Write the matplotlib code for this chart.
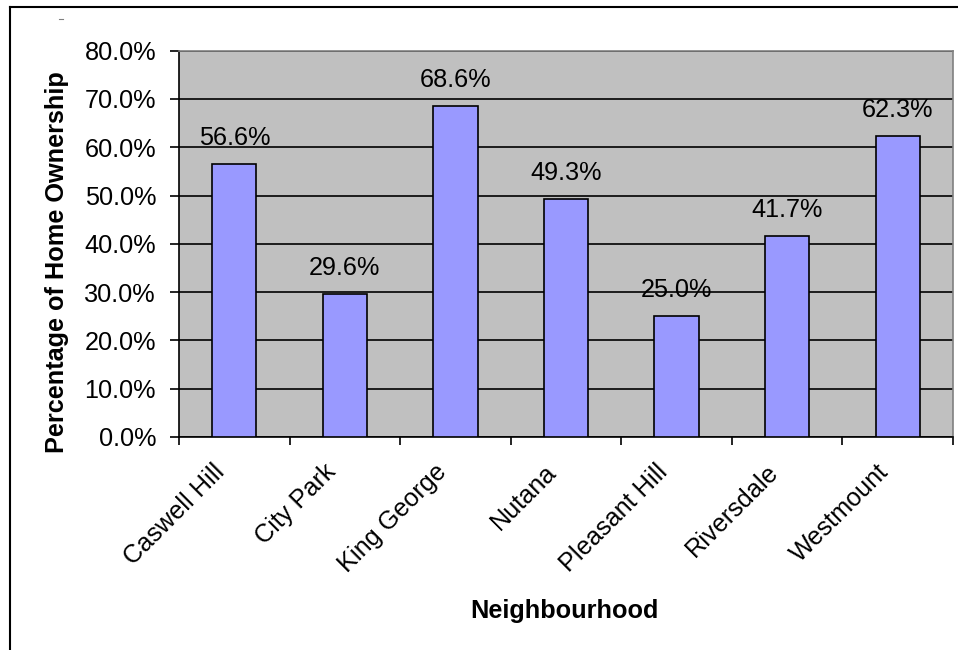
import matplotlib
matplotlib.use("Agg")
import matplotlib.pyplot as plt
from matplotlib.lines import Line2D
from matplotlib.transforms import ScaledTranslation
import numpy as np

categories = ["Caswell Hill", "City Park", "King George", "Nutana",
              "Pleasant Hill", "Riversdale", "Westmount"]
values = [56.6, 29.6, 68.6, 49.3, 25.0, 41.7, 62.3]
yticks = [0, 10, 20, 30, 40, 50, 60, 70, 80]
ytick_labels = ["%.1f%%" % v for v in yticks]

plt.rcParams['font.family'] = ['Liberation Sans', 'DejaVu Sans']
FS = 18.2

fig = plt.figure(figsize=(9.58, 6.5), dpi=100)
W, H = 958, 650
ax = fig.add_axes([179 / W, 1 - 437 / H, (953 - 179) / W, (437 - 50.7) / H])
ax.set_facecolor('#C0C0C0')

x = np.arange(len(categories))
ax.bar(x, values, width=0.4, color='#9999FF', edgecolor='black', linewidth=1.2, zorder=3)

ax.set_xlim(-0.5, len(categories) - 0.5)
ax.set_ylim(0, 80)
ax.set_yticks(yticks)
ax.set_yticklabels(ytick_labels, fontsize=FS)
ax.yaxis.grid(True, color='black', linewidth=1.2, zorder=1)
ax.set_axisbelow(True)

ax.set_xticks(x)
ax.set_xticklabels(categories, fontsize=FS, rotation=45, ha='right', va='center',
                   rotation_mode='anchor')
ax.set_xticks(np.arange(-0.5, len(categories), 1.0), minor=True)
ax.tick_params(axis='x', which='major', length=0, pad=0)
ax.tick_params(axis='x', which='minor', length=5.8, width=1.2, direction='out')
ax.tick_params(axis='y', length=6.5, width=1.2, direction='out', pad=10)
shift = ScaledTranslation(-13 / 100, -31 / 100, fig.dpi_scale_trans)
for lab in ax.get_xticklabels():
    lab.set_transform(lab.get_transform() + shift)

for s in ['top', 'right']:
    ax.spines[s].set_color('#808080')
    ax.spines[s].set_linewidth(1.2)
for s in ['left', 'bottom']:
    ax.spines[s].set_color('black')
    ax.spines[s].set_linewidth(1.2)

for xi, v in zip(x, values):
    ax.annotate("%.1f%%" % v, (xi, v), xytext=(0, 13.7), textcoords='offset points',
                ha='center', va='baseline', fontsize=FS, zorder=4)

fig.text(57 / W, 1 - 262 / H, "Percentage of Home Ownership", rotation=90,
         ha='center', va='center', fontsize=FS, fontweight='bold')
fig.text(564 / W, 1 - 611 / H, "Neighbourhood", ha='center', va='center',
         fontsize=FS, fontweight='bold')

# outer chart border
fig.add_artist(Line2D([9.5 / W, 1.0], [1 - 7 / H, 1 - 7 / H], color='black', linewidth=1.5,
                      transform=fig.transFigure))
fig.add_artist(Line2D([9.5 / W, 9.5 / W], [0, 1 - 7 / H], color='black', linewidth=1.5,
                      transform=fig.transFigure))
# tiny title placeholder mark
fig.add_artist(Line2D([59 / W, 63 / W], [1 - 19 / H, 1 - 19 / H], color='#808080', linewidth=0.8,
                      transform=fig.transFigure))

fig.savefig("out.png", dpi=100, facecolor='white')
